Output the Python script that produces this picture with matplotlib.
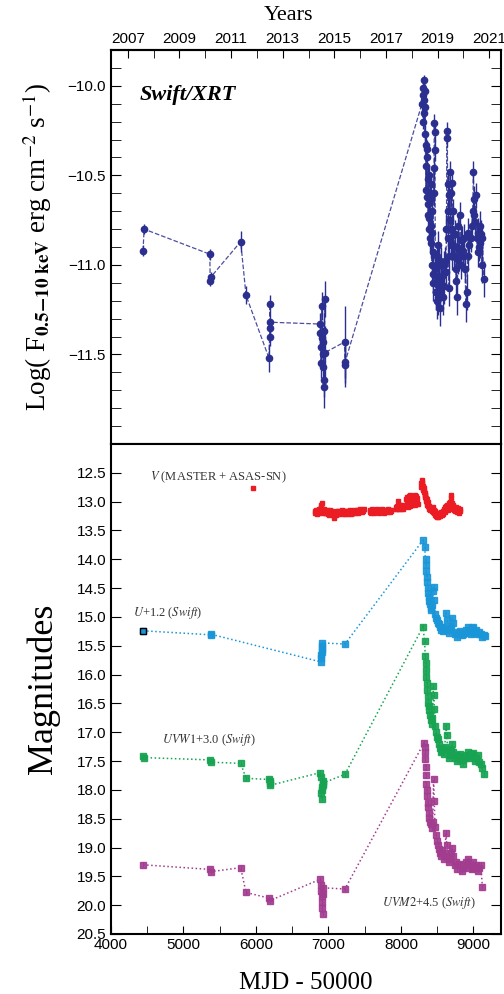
import matplotlib.pyplot as plt
from matplotlib.ticker import MultipleLocator, FixedLocator

plt.rcParams['font.family'] = ['Liberation Sans', 'DejaVu Sans']
plt.rcParams['mathtext.fontset'] = 'stix'

# Swift/XRT 0.5-10 keV flux (log), MJD-50000
xrt_mjd = [4444, 4458, 5364, 5370, 5374, 5790, 5864, 6180, 6190, 6193, 6195, 6198,
           6885, 6890, 6894, 6898, 6905, 6912, 6920, 6926, 6932, 6936, 6940, 6944, 6947, 6950,
           7224, 7228, 7232,
           8290, 8300, 8304, 8309, 8313, 8318, 8322, 8327, 8331, 8336, 8340, 8345, 8350, 8355,
           8359, 8365, 8369, 8373, 8378, 8382, 8386, 8390, 8395, 8400, 8405, 8410, 8414, 8420,
           8424, 8428, 8432, 8436, 8440, 8445, 8451, 8455, 8460, 8465, 8470, 8474, 8478, 8483,
           8490, 8495, 8500, 8505, 8510, 8515, 8519, 8525, 8530, 8536, 8542, 8550, 8558, 8565,
           8575, 8588, 8600, 8610, 8620, 8628, 8634, 8640, 8644, 8647, 8652, 8657, 8662, 8668,
           8675, 8680, 8685, 8692, 8698, 8703, 8710, 8718, 8725, 8735, 8745, 8757, 8762, 8770,
           8778, 8785, 8794, 8805, 8817, 8822, 8830, 8840, 8850, 8863, 8875, 8886, 8895, 8909,
           8920, 8932, 8945, 8960, 8977, 8990, 9000, 9005, 9012, 9023, 9032, 9045, 9059, 9068,
           9078, 9087, 9096, 9105, 9114, 9125, 9141]
xrt_logf = [-10.92, -10.80, -10.94, -11.09, -11.07, -10.87, -11.17, -11.52, -11.40, -11.35, -11.22, -11.32,
            -11.33, -11.38, -11.46, -11.55, -11.23, -11.41, -11.50, -11.43, -11.57, -11.37, -11.68, -11.64, -11.19, -11.49,
            -11.43, -11.56, -11.54,
            -10.10, -10.05, -10.20, -10.01, -9.97, -10.08, -10.15, -10.27, -10.12, -10.03, -10.45, -10.58, -10.33, -10.62,
            -10.40, -10.35, -10.52, -10.66, -10.72, -10.50, -10.80, -10.74, -10.60, -10.85, -10.63, -10.55, -10.78, -10.88,
            -11.00, -10.82, -10.70, -10.93, -11.10, -11.05, -10.46, -10.60, -10.21, -10.26, -10.36, -11.02, -11.15, -11.06,
            -11.15, -11.20, -10.95, -11.08, -10.89, -11.18, -11.12, -11.00, -10.97, -11.15, -11.24, -11.10, -11.00, -11.06,
            -11.18, -11.00, -11.12, -10.98, -11.04, -10.80, -10.25, -10.29, -10.55, -10.70, -10.85, -10.61, -11.13, -10.95,
            -10.75, -10.48, -10.89, -10.60, -10.95, -10.54, -10.80, -10.70, -10.89, -10.95, -10.83, -11.02, -11.09, -10.90,
            -11.18, -10.97, -10.78, -10.92, -10.72, -10.86, -11.00, -10.86, -10.92, -10.95, -10.85, -11.02, -11.22, -11.15,
            -10.95, -10.82, -10.89, -10.85, -10.78, -10.70, -10.48, -10.63, -10.72, -10.76, -10.61, -10.85, -10.93, -10.82,
            -10.90, -10.78, -10.88, -10.83, -11.00, -10.85, -11.08]
xrt_err = [0.03, 0.03, 0.03, 0.03, 0.03, 0.06, 0.05, 0.08, 0.05, 0.05, 0.05, 0.05,
           0.06, 0.06, 0.06, 0.08, 0.08, 0.08, 0.08, 0.08, 0.10, 0.10, 0.12, 0.10, 0.10, 0.15,
           0.20, 0.12, 0.12,
           0.04, 0.04, 0.04, 0.03, 0.03, 0.04, 0.04, 0.05, 0.04, 0.04, 0.06, 0.06, 0.05, 0.06,
           0.05, 0.05, 0.06, 0.06, 0.07, 0.06, 0.07, 0.07, 0.06, 0.08, 0.06, 0.06, 0.08, 0.08,
           0.09, 0.08, 0.07, 0.08, 0.10, 0.10, 0.06, 0.07, 0.05, 0.05, 0.06, 0.10, 0.10, 0.10,
           0.10, 0.10, 0.08, 0.10, 0.08, 0.10, 0.10, 0.10, 0.08, 0.10, 0.10, 0.10, 0.10, 0.10,
           0.10, 0.08, 0.10, 0.08, 0.08, 0.08, 0.05, 0.05, 0.06, 0.07, 0.08, 0.07, 0.10, 0.08,
           0.07, 0.06, 0.08, 0.07, 0.08, 0.06, 0.08, 0.07, 0.08, 0.08, 0.08, 0.08, 0.10, 0.08,
           0.10, 0.08, 0.07, 0.08, 0.07, 0.08, 0.08, 0.08, 0.08, 0.08, 0.08, 0.08, 0.10, 0.10,
           0.08, 0.08, 0.08, 0.08, 0.08, 0.07, 0.06, 0.07, 0.07, 0.08, 0.07, 0.08, 0.08, 0.08,
           0.08, 0.08, 0.08, 0.08, 0.10, 0.08, 0.10]

# V band (MASTER + ASAS-SN)
v_mjd = [5964,
         6816, 6822, 6828, 6834, 6840, 6846, 6852, 6858, 6864, 6870, 6876, 6882, 6888, 6894,
         6900, 6905, 6910, 6916, 6922, 6928, 6934, 6940, 6946, 6952, 6958, 6964, 6970, 6976,
         6982, 6988, 6994, 7000, 7006, 7012, 7018, 7024, 7030, 7036, 7042, 7048, 7054, 7060,
         7066, 7072, 7078, 7084, 7090, 7096, 7102, 7108, 7114, 7120, 7126, 7132, 7138, 7144,
         7175, 7183, 7191, 7199, 7207, 7215, 7223, 7231, 7239, 7247, 7255, 7263, 7271, 7279,
         7287, 7295, 7303, 7311, 7319, 7327, 7335, 7343, 7351, 7359, 7367, 7375, 7383, 7391,
         7399, 7407, 7415, 7423, 7431, 7439, 7447, 7455, 7463, 7471, 7479, 7487,
         7572, 7580, 7588, 7596, 7604, 7612, 7620, 7628, 7636, 7644, 7652, 7660, 7668, 7676,
         7684, 7692, 7700, 7708, 7716, 7724, 7732, 7740, 7748, 7756, 7764, 7772, 7780, 7788,
         7796, 7804, 7812, 7820, 7828, 7836, 7844, 7852, 7860, 7868,
         7930, 7937, 7944, 7951, 7958, 7965, 7972, 7979, 7986, 7993, 8000, 8007, 8014, 8021,
         8028, 8035,
         8066, 8072, 8078, 8084, 8090, 8096, 8102, 8108, 8114, 8120, 8126, 8132, 8138, 8144, 8150,
         8175, 8181, 8187, 8193, 8199, 8205, 8211, 8217, 8223, 8229,
         8278, 8282, 8286, 8290, 8294, 8298, 8302, 8306, 8310, 8314, 8318, 8322, 8326, 8330,
         8334, 8338, 8342, 8346, 8350, 8354, 8358, 8362, 8366, 8370, 8374, 8378, 8382, 8386,
         8390, 8394, 8398,
         8423, 8430, 8437, 8444, 8451, 8458, 8465, 8472, 8479, 8486, 8493, 8500, 8507, 8514,
         8521, 8528, 8535, 8542, 8549, 8556, 8563, 8570, 8577, 8584, 8591, 8598, 8605, 8612,
         8619, 8626, 8633, 8640, 8647, 8654, 8661, 8668, 8675, 8682, 8689, 8694, 8700, 8707,
         8714, 8721, 8728, 8735, 8742, 8749, 8756, 8763, 8770, 8777, 8784, 8791, 8798, 8805,
         8812, 8819]
v_mag = [12.77,
         13.17, 13.20, 13.14, 13.19, 13.16, 13.22, 13.15, 13.18, 13.13, 13.20, 13.16, 13.12, 13.17, 13.10,
         13.06, 13.02, 13.12, 13.15, 13.19, 13.14, 13.17, 13.12, 13.18, 13.15, 13.20, 13.16, 13.19, 13.14,
         13.18, 13.21, 13.16, 13.19, 13.23, 13.17, 13.20, 13.15, 13.18, 13.22, 13.17, 13.20, 13.16, 13.19,
         13.22, 13.18, 13.25, 13.28, 13.22, 13.19, 13.23, 13.18, 13.21, 13.17, 13.20, 13.16, 13.19, 13.22,
         13.18, 13.15, 13.20, 13.17, 13.21, 13.16, 13.19, 13.22, 13.17, 13.20, 13.16, 13.19, 13.21, 13.17,
         13.20, 13.15, 13.18, 13.21, 13.17, 13.19, 13.16, 13.20, 13.17, 13.15, 13.19, 13.16, 13.18, 13.14,
         13.17, 13.19, 13.15, 13.18, 13.16, 13.13, 13.17, 13.15, 13.18, 13.14, 13.16, 13.13,
         13.18, 13.15, 13.19, 13.16, 13.13, 13.17, 13.15, 13.19, 13.16, 13.14, 13.18, 13.15, 13.17, 13.13,
         13.16, 13.19, 13.15, 13.17, 13.14, 13.18, 13.15, 13.13, 13.17, 13.15, 13.19, 13.16, 13.14, 13.17,
         13.15, 13.18, 13.14, 13.16, 13.13, 13.17, 13.15, 13.18, 13.14, 13.16,
         13.12, 13.09, 13.13, 13.07, 13.11, 12.98, 13.08, 13.12, 13.06, 13.10, 13.13, 13.08, 13.11, 13.05,
         13.10, 13.12,
         13.08, 12.95, 13.02, 12.92, 13.06, 12.98, 13.10, 12.90, 13.04, 12.88, 12.96, 13.08, 12.93, 13.02, 13.06,
         13.02, 12.92, 12.98, 12.88, 13.05, 12.95, 12.90, 13.00, 12.94, 13.04,
         12.75, 12.68, 12.63, 12.66, 12.70, 12.74, 12.72, 12.78, 12.80, 12.76, 12.84, 12.82, 12.88, 12.85,
         12.92, 12.89, 12.95, 12.93, 12.98, 13.00, 12.96, 13.03, 13.05, 13.01, 13.07, 13.05, 13.10, 13.08,
         13.12, 13.10, 13.14,
         13.12, 13.16, 13.10, 13.18, 13.14, 13.20, 13.17, 13.23, 13.19, 13.25, 13.21, 13.27, 13.22, 13.26,
         13.20, 13.24, 13.19, 13.25, 13.21, 13.18, 13.23, 13.20, 13.16, 13.21, 13.17, 13.13, 13.18, 13.10,
         13.15, 13.07, 13.12, 13.05, 13.10, 13.14, 13.08, 13.03, 13.10, 13.00, 12.93, 12.88, 13.02, 13.08,
         13.12, 13.06, 13.14, 13.10, 13.17, 13.12, 13.15, 13.09, 13.13, 13.18, 13.11, 13.15, 13.20, 13.14,
         13.17, 13.12]

# Swift/UVOT U + 1.2
u_mjd = [4444, 5374, 5380, 6895, 6899, 6902, 6905, 6908, 6911, 6914, 7228,
         8304, 8327, 8340, 8345, 8350, 8355, 8362, 8370, 8378, 8385, 8392, 8400, 8410, 8420,
         8432, 8445, 8452, 8460, 8470, 8480, 8492, 8505, 8520, 8535, 8550, 8565, 8580, 8600,
         8620, 8630, 8645, 8660, 8675, 8690, 8705, 8720, 8740, 8760, 8780, 8800, 8820, 8840,
         8860, 8880, 8900, 8920, 8940, 8960, 8980, 9000, 9020, 9040, 9060, 9080, 9100, 9120,
         9140, 9160]
u_mag = [15.24, 15.31, 15.30, 15.78, 15.72, 15.66, 15.60, 15.55, 15.50, 15.45, 15.47,
         13.67, 13.79, 14.00, 14.10, 14.20, 14.30, 14.40, 14.50, 14.58, 14.65, 14.72, 14.78, 14.85, 14.88,
         14.80, 14.55, 14.48, 14.70, 14.95, 15.02, 15.06, 15.10, 15.12, 15.18, 15.22, 15.20, 15.25, 15.18,
         14.93, 15.05, 15.22, 15.28, 15.20, 15.15, 15.02, 15.10, 15.30, 15.26, 15.34, 15.28, 15.25, 15.32,
         15.30, 15.28, 15.22, 15.18, 15.26, 15.30, 15.20, 15.18, 15.28, 15.22, 15.30, 15.26, 15.30, 15.34,
         15.32, 15.33]

# Swift/UVOT UVW1 + 3.0
w1_mjd = [4444, 4455, 5364, 5374, 5790, 5864, 6185, 6190, 6194, 6200,
          6890, 6895, 6900, 6905, 6910, 6915, 6920, 6925, 6930, 7228,
          8304, 8327, 8335, 8340, 8345, 8350, 8356, 8362, 8370, 8378, 8385, 8392, 8400, 8410,
          8422, 8435, 8448, 8455, 8462, 8472, 8482, 8495, 8510, 8525, 8540, 8555, 8570, 8590,
          8605, 8622, 8632, 8645, 8660, 8675, 8690, 8705, 8720, 8740, 8760, 8780, 8800, 8820,
          8840, 8860, 8880, 8900, 8920, 8940, 8960, 8980, 9000, 9020, 9040, 9060, 9080, 9100,
          9120, 9140]
w1_mag = [17.42, 17.44, 17.48, 17.52, 17.54, 17.80, 17.82, 17.85, 17.88, 17.92,
          17.70, 17.78, 18.05, 18.15, 17.95, 18.00, 17.85, 17.92, 17.88, 17.73,
          15.17, 15.42, 15.68, 15.80, 15.92, 16.05, 16.15, 16.26, 16.38, 16.50, 16.55, 16.62, 16.70, 16.78,
          16.85, 16.75, 16.20, 16.35, 16.60, 16.90, 17.00, 17.08, 17.12, 17.20, 17.28, 17.35, 17.30, 17.38,
          17.25, 16.89, 17.05, 17.30, 17.45, 17.40, 17.30, 17.20, 17.35, 17.45, 17.40, 17.50, 17.42, 17.38,
          17.48, 17.55, 17.45, 17.40, 17.35, 17.45, 17.38, 17.42, 17.36, 17.50, 17.45, 17.40, 17.52, 17.55,
          17.62, 17.73]

# Swift/UVOT UVM2 + 4.5
m2_mjd = [4444, 5364, 5374, 5790, 5864, 6185, 6194,
          6890, 6895, 6900, 6905, 6910, 6915, 6920, 6925, 6930, 7228,
          8320, 8327, 8332, 8336, 8340, 8345, 8350, 8355, 8362, 8370, 8378, 8385, 8392, 8400,
          8412, 8425, 8438, 8450, 8460, 8470, 8482, 8495, 8510, 8525, 8540, 8555, 8570, 8590,
          8605, 8622, 8632, 8645, 8660, 8675, 8690, 8705, 8720, 8740, 8760, 8780, 8800, 8820,
          8840, 8860, 8880, 8900, 8920, 8940, 8960, 8980, 9000, 9020, 9040, 9060, 9080, 9100,
          9124]
m2_mag = [19.30, 19.38, 19.42, 19.35, 19.78, 19.88, 19.92,
          19.55, 19.65, 19.75, 19.85, 19.95, 20.05, 20.15, 19.80, 19.70, 19.72,
          17.18, 17.25, 17.35, 17.47, 17.60, 17.75, 17.90, 18.00, 18.10, 18.22, 18.30, 18.40, 18.48, 18.55,
          18.60, 18.66, 18.55, 17.82, 18.20, 18.65, 18.78, 18.88, 18.95, 19.02, 19.10, 19.15, 19.05, 19.20,
          19.10, 18.74, 18.95, 19.15, 19.25, 19.20, 19.10, 19.00, 19.15, 19.30, 19.25, 19.38, 19.30, 19.28,
          19.40, 19.35, 19.30, 19.25, 19.20, 19.35, 19.30, 19.38, 19.25, 19.35, 19.30, 19.40, 19.35, 19.30,
          19.68]

years = [2007, 2009, 2011, 2013, 2015, 2017, 2019, 2021]

navy = '#2b2f8f'
c_v = '#ec1c24'
c_u = '#1a96d8'
c_w1 = '#17a352'
c_m2 = '#a23c8f'

fig = plt.figure(figsize=(5.04, 9.94), dpi=100)
ax1 = fig.add_axes([0.220, 0.5533, 0.774, 0.3964])
ax2 = fig.add_axes([0.220, 0.0604, 0.774, 0.4929], sharex=ax1)

# --- top panel: X-ray
ax1.plot(xrt_mjd, xrt_logf, '--', color=navy, lw=0.9, alpha=0.85, zorder=2)
ax1.errorbar(xrt_mjd, xrt_logf, yerr=xrt_err, fmt='o', color=navy, ms=4.5,
             elinewidth=1.0, capsize=0, zorder=3)
ax1.set_xlim(4000, 9380)
ax1.set_ylim(-12.0, -9.8)
ax1.yaxis.set_major_locator(FixedLocator([-11.5, -11.0, -10.5, -10.0]))
ax1.yaxis.set_minor_locator(MultipleLocator(0.1))
ax1.tick_params(axis='y', which='both', direction='in', left=True, right=True,
                length=7, labelsize=11)
ax1.tick_params(axis='x', which='both', bottom=False, top=False, labelbottom=False)
ax1.set_ylabel(r'Log( F$_{\mathbf{0.5\!-\!10\ keV}}$ erg cm$^{-2}$ s$^{-1}$)',
               family='Liberation Serif', fontsize=19.5, labelpad=10)
ax1.text(4398, -10.05, 'Swift/XRT', family='Liberation Serif', fontsize=16,
         fontweight='bold', style='italic', va='center', ha='left')


def mjd2yr(m):
    return 2007 + (m - 4234) / 356.0


def yr2mjd(y):
    return 4234 + (y - 2007) * 356.0


sec = ax1.secondary_xaxis('top', functions=(mjd2yr, yr2mjd))
sec.xaxis.set_major_locator(FixedLocator(years))
sec.xaxis.set_minor_locator(MultipleLocator(1))
sec.tick_params(which='both', direction='in', length=6, labelsize=11, pad=3)
fig.text(288 / 504, 1 - 15 / 994, 'Years', family='Liberation Serif', fontsize=16,
         ha='center', va='center')

# --- bottom panel: optical / UV
ax2.plot(v_mjd, v_mag, 's', color=c_v, ms=2.2, mec=c_v, zorder=3)

for mjd, mag, col in [(u_mjd, u_mag, c_u), (w1_mjd, w1_mag, c_w1), (m2_mjd, m2_mag, c_m2)]:
    ax2.plot(mjd, mag, ':', color=col, lw=1.1, zorder=2)
    ax2.errorbar(mjd, mag, yerr=0.04, fmt='s', color=col, ms=3.8, mfc=col, mec=col,
                 elinewidth=0.9, capsize=0, alpha=0.9, zorder=3)
ax2.plot(u_mjd[:1], u_mag[:1], 's', ms=4, mfc=c_u, mec='black', mew=1.0, zorder=4)

ax2.set_ylim(20.5, 12.0)
ax2.yaxis.set_major_locator(FixedLocator([12.5 + 0.5 * i for i in range(17)]))
ax2.xaxis.set_major_locator(MultipleLocator(1000))
ax2.xaxis.set_minor_locator(MultipleLocator(500))
ax2.tick_params(axis='y', which='both', direction='in', left=True, right=True, length=7, labelsize=11)
ax2.tick_params(axis='x', which='both', direction='in', top=False, length=6, labelsize=11, pad=3)
ax2.set_ylabel('Magnitudes', family='Liberation Serif', fontsize=26, labelpad=12)
ax2.set_xlabel('MJD - 50000', family='Liberation Serif', fontsize=18, labelpad=14)

ax2.text(4536, 12.57, r'$\mathit{V}$ (MASTER + ASAS-SN)', family='Liberation Serif',
         fontsize=9, va='center', color='#333333')
ax2.text(4302, 14.93, r'$\mathit{U}$+1.2 ($\mathit{Swift}$)', family='Liberation Serif',
         fontsize=9, va='center', color='#333333')
ax2.text(4700, 17.14, r'$\mathit{UVW1}$+3.0 ($\mathit{Swift}$)', family='Liberation Serif',
         fontsize=9, va='center', color='#333333')
ax2.text(7736, 19.96, r'$\mathit{UVM2}$+4.5 ($\mathit{Swift}$)', family='Liberation Serif',
         fontsize=9, va='center', color='#333333')

for ax in (ax1, ax2):
    for sp in ax.spines.values():
        sp.set_linewidth(1.5)
sec.spines['top'].set_linewidth(1.5)

fig.savefig('out.png', dpi=100)
